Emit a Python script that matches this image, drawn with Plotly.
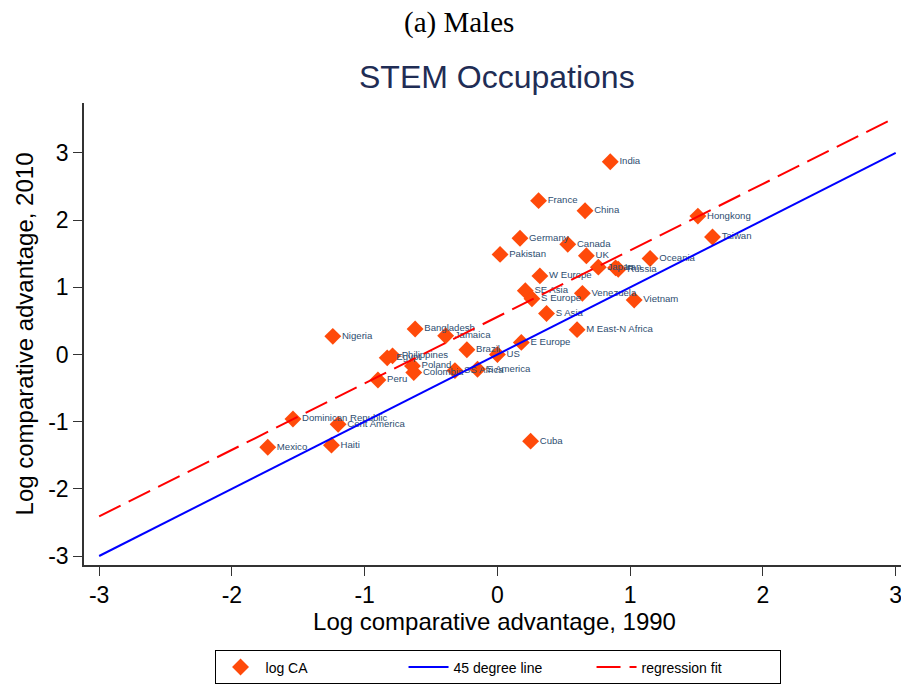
import plotly.graph_objects as go

# log comparative advantage, 1990 vs 2010 (males, STEM occupations)
countries = [
    "India", "France", "China", "Hongkong", "Taiwan", "Germany", "Canada",
    "Pakistan", "UK", "Oceania", "Japan", "Iran", "Russia", "W Europe",
    "SE Asia", "S Europe", "Venezuela", "Vietnam", "S Asia", "M East-N Africa",
    "E Europe", "US", "Cuba", "Nigeria", "Bangladesh", "Jamaica", "Brazil",
    "Philippines", "Egypt", "Poland", "Colombia", "SS Africa", "S America",
    "Peru", "Dominican Republic", "Cent America", "Mexico", "Haiti",
]
ca_1990 = [
    0.85, 0.31, 0.66, 1.51, 1.62, 0.17, 0.53,
    0.02, 0.67, 1.15, 0.76, 0.89, 0.91, 0.32,
    0.21, 0.26, 0.64, 1.03, 0.37, 0.60,
    0.18, 0.00, 0.25, -1.24, -0.62, -0.39, -0.23,
    -0.79, -0.83, -0.64, -0.63, -0.32, -0.15,
    -0.90, -1.54, -1.20, -1.73, -1.25,
]
ca_2010 = [
    2.87, 2.29, 2.14, 2.06, 1.75, 1.73, 1.64,
    1.49, 1.47, 1.43, 1.30, 1.29, 1.27, 1.17,
    0.95, 0.83, 0.91, 0.81, 0.61, 0.37,
    0.18, 0.00, -1.29, 0.27, 0.38, 0.28, 0.07,
    -0.02, -0.05, -0.17, -0.27, -0.24, -0.22,
    -0.38, -0.96, -1.04, -1.38, -1.35,
]

line45_x = [-3, 3]
line45_y = [-3, 3]
fit_x = [-3, 3]
fit_y = [-2.41, 3.53]

tick_vals = [-3, -2, -1, 0, 1, 2, 3]

fig = go.Figure()

fig.add_trace(go.Scatter(
    x=ca_1990, y=ca_2010, mode="markers+text", name="log CA",
    text=countries, textposition="middle right",
    textfont=dict(size=9.6, color="#2e4d70", family="Liberation Sans"),
    marker=dict(symbol="diamond", size=13, color="#ff4a0a"),
))
fig.add_trace(go.Scatter(
    x=line45_x, y=line45_y, mode="lines", name="45 degree line",
    line=dict(color="#0000ff", width=2),
))
fig.add_trace(go.Scatter(
    x=fit_x, y=fit_y, mode="lines", name="regression fit",
    line=dict(color="#ff0000", width=2, dash="24px,9px"),
))

axis_font = dict(family="Liberation Sans", size=24, color="#000000")

fig.update_xaxes(
    range=[-3.114, 3.07], tickvals=tick_vals, ticktext=[str(v) for v in tick_vals],
    showline=True, linecolor="#333333", linewidth=1.5, ticks="outside",
    ticklen=9, tickcolor="#333333", showgrid=False, zeroline=False,
    tickfont=dict(family="Liberation Sans", size=23, color="#000000"),
    automargin=False,
    title=dict(text="Log comparative advantage, 1990", font=axis_font, standoff=6),
)
fig.update_yaxes(
    range=[-3.134, 3.744], tickvals=tick_vals, ticktext=[str(v) for v in tick_vals],
    showline=True, linecolor="#333333", linewidth=1.5, ticks="outside",
    ticklen=9, tickcolor="#333333", showgrid=False, zeroline=False,
    tickfont=dict(family="Liberation Sans", size=23, color="#000000"),
    automargin=False,
    title=dict(text="Log comparative advantage, 2010", font=axis_font, standoff=8),
)

fig.add_annotation(
    text="(a) Males", xref="paper", yref="paper", x=0.457, y=1.175, yanchor="middle",
    showarrow=False, font=dict(family="Liberation Serif", size=29, color="#000000"),
)
fig.add_annotation(
    text="STEM Occupations", xref="paper", yref="paper", x=0.503, y=1.056, yanchor="middle",
    showarrow=False, font=dict(family="Liberation Sans", size=32, color="#1f2d55"),
)

# page body has an 8px margin, so the figure is drawn 8px smaller and shifted
fig.update_layout(
    width=901, height=690,
    margin=dict(l=76, r=4, t=95, b=133, autoexpand=False),
    plot_bgcolor="white", paper_bgcolor="white",
    legend=dict(
        orientation="h", x=0.5037, y=-0.185, xanchor="center", yanchor="top",
        bordercolor="#000000", borderwidth=1,
        font=dict(family="Liberation Sans", size=14, color="#000000"),
        itemwidth=40, entrywidth=133,
    ),
)

fig.write_html("out.html")
